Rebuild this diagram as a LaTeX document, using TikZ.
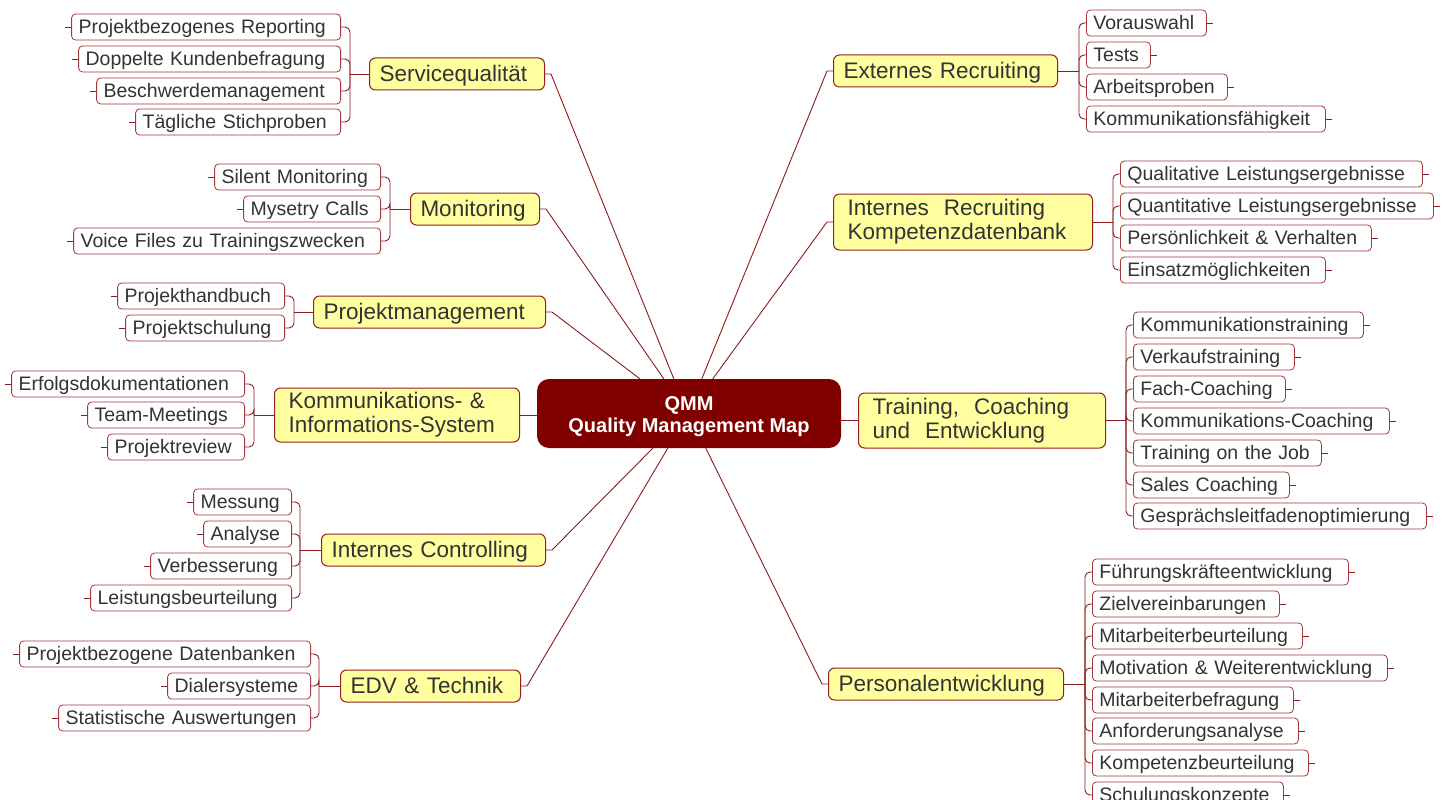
\documentclass[tikz,border=0pt]{standalone}
\usepackage{fontspec}
\setmainfont{Liberation Sans}
\usetikzlibrary{calc}
\definecolor{connc}{RGB}{140,26,26}
\definecolor{leafc}{RGB}{165,55,60}
\definecolor{branchc}{RGB}{150,30,30}
\definecolor{branchfill}{RGB}{255,255,160}
\definecolor{centerfill}{RGB}{128,0,0}
\definecolor{txt}{RGB}{51,51,51}
\begin{document}
\begin{tikzpicture}[x=1pt,y=-1pt,
  conn/.style={draw=connc, line width=0.9pt},
  spinec/.style={draw=connc, line width=0.9pt, rounded corners=5pt},
  leaf/.style={draw=leafc, line width=0.8pt, fill=white, rounded corners=4pt,
    font=\fontsize{19.5}{22}\selectfont, text=txt, inner xsep=7pt, inner ysep=0pt,
    minimum height=26pt, text height=16pt, text depth=2.5pt, align=left},
  lleaf/.style={leaf, anchor=east},
  rleaf/.style={leaf, anchor=west},
  branch/.style={draw=branchc, line width=1pt, fill=branchfill, rounded corners=6pt,
    font=\fontsize{22.5}{24}\selectfont, text=txt, inner xsep=10pt, inner ysep=0pt,
    minimum height=32pt, align=left, anchor=west},
  branchone/.style={branch, text height=18pt, text depth=3pt},
  branchtwo/.style={branch, inner xsep=14pt},
  central/.style={fill=centerfill, rounded corners=12pt, text=white,
    font=\fontsize{20}{21.5}\selectfont\bfseries, align=center,
    minimum width=304pt, minimum height=69pt, inner sep=0pt}
]
\useasboundingbox (0,0) rectangle (1444,800);
\clip (0,0) rectangle (1444,800);

% central node
\node[central] (qmm) at (689,413.5) {\rule{0pt}{20pt}QMM\\Quality Management Map};

% branches
\node[branchone, text width=155pt] (b1) at (369,74) {Servicequalität};
\node[branchone, text width=109pt] (b2) at (410,209) {Monitoring};
\node[branchone, text width=212pt] (b3) at (313,312) {Projektmanagement};
\node[branchtwo, text width=217pt, minimum height=54pt] (b4) at (274,415) {Kommunikations- \&\\Informations-System};
\node[branchone, text width=204pt] (b5) at (321,550) {Internes Controlling};
\node[branchone, text width=160pt] (b6) at (340,686) {EDV \& Technik};
\node[branchone, text width=204pt] (b7) at (833,71) {Externes Recruiting};
\node[branchtwo, text width=231pt, minimum height=56pt] (b8) at (833,222) {Internes\ \ Recruiting\\Kompetenzdatenbank};
\node[branchtwo, text width=219pt, minimum height=55pt] (b9) at (858,420.5) {Training,\ \ Coaching\\und\ \ Entwicklung};
\node[branchone, text width=215pt] (b10) at (828,684) {Personalentwicklung};

% connectors centre -> branches
\draw[conn] (b1.east) -- ++(6,0) -- ($(qmm.north west)+(137,0)$);
\draw[conn] (b2.east) -- ++(6,0) -- ($(qmm.north west)+(127,0)$);
\draw[conn] (b3.east) -- ++(6,0) -- ($(qmm.north west)+(103,0)$);
\draw[conn] (b4.east) -- (b4.east -| qmm.west);
\draw[conn] (b5.east) -- ++(6,0) -- ($(qmm.south west)+(116,0)$);
\draw[conn] (b6.east) -- ++(6,0) -- ($(qmm.south west)+(131,0)$);
\draw[conn] (b7.west) -- ++(-6,0) -- ($(qmm.north west)+(165,0)$);
\draw[conn] (b8.west) -- ++(-6,0) -- ($(qmm.north west)+(176,0)$);
\draw[conn] (b9.west) -- (b9.west -| qmm.east);
\draw[conn] (b10.west) -- ++(-6,0) -- ($(qmm.south west)+(169,0)$);

% spine points
\coordinate (s1) at ($(b1.west)+(-19,0)$);
\coordinate (s2) at ($(b2.west)+(-20,0)$);
\coordinate (s3) at ($(b3.west)+(-19,0)$);
\coordinate (s4) at ($(b4.west)+(-20,0)$);
\coordinate (s5) at ($(b5.west)+(-21,0)$);
\coordinate (s6) at ($(b6.west)+(-21,0)$);
\coordinate (s7) at ($(b7.east)+(21,0)$);
\coordinate (s8) at ($(b8.east)+(20,0)$);
\coordinate (s9) at ($(b9.east)+(20,0)$);
\coordinate (s10) at ($(b10.east)+(21,0)$);
\foreach \i in {1,...,6} {\draw[conn] (b\i.west) -- (s\i);}
\foreach \i in {7,...,10} {\draw[conn] (b\i.east) -- (s\i);}

% left leaves
\foreach \n/\x/\w/\y/\t in {
  l11/341/255/27/{Projektbezogenes Reporting},
  l12/341/248/59/{Doppelte Kundenbefragung},
  l13/341/230/91/{Beschwerdemanagement},
  l14/341/191/122/{Tägliche Stichproben},
  l21/381/152/177/{Silent Monitoring},
  l22/381/123/209/{Mysetry Calls},
  l23/381/293/241/{Voice Files zu Trainingszwecken},
  l31/285/153/296/{Projekthandbuch},
  l32/285/145/328/{Projektschulung},
  l41/245/219/384/{Erfolgsdokumentationen},
  l42/245/143/415/{Team-Meetings},
  l43/245/123/447/{Projektreview},
  l51/292/84/502/{Messung},
  l52/292/74/534/{Analyse},
  l53/292/127/566/{Verbesserung},
  l54/292/187/598/{Leistungsbeurteilung},
  l61/311/277/654/{Projektbezogene Datenbanken},
  l62/311/129/686/{Dialersysteme},
  l63/311/238/718/{Statistische Auswertungen}} {
  \node[lleaf, text width=\w pt] (\n) at (\x,\y) {\t};
  \draw[conn] (\n.west) -- ++(-6,0);
}

% right leaves
\foreach \n/\x/\w/\y/\t in {
  r71/1086/106/23/{Vorauswahl},
  r72/1086/50/55/{Tests},
  r73/1086/127/87/{Arbeitsproben},
  r74/1086/225/119/{Kommunikationsfähigkeit},
  r81/1120/288/174/{Qualitative Leistungsergebnisse},
  r82/1120/299/206/{Quantitative Leistungsergebnisse},
  r83/1120/237/238/{Persönlichkeit \& Verhalten},
  r84/1120/191/270/{Einsatzmöglichkeiten},
  r91/1133/216/325/{Kommunikationstraining},
  r92/1133/147/357/{Verkaufstraining},
  r93/1133/138/389/{Fach-Coaching},
  r94/1133/242/421/{Kommunikations-Coaching},
  r95/1133/174/453/{Training on the Job},
  r96/1133/142/485/{Sales Coaching},
  r97/1133/279/516/{Gesprächsleitfadenoptimierung},
  r101/1092/242/572/{Führungskräfteentwicklung},
  r102/1092/173/604/{Zielvereinbarungen},
  r103/1092/196/636/{Mitarbeiterbeurteilung},
  r104/1092/281/668/{Motivation \& Weiterentwicklung},
  r105/1092/187/700/{Mitarbeiterbefragung},
  r106/1092/192/731/{Anforderungsanalyse},
  r107/1092/202/763/{Kompetenzbeurteilung},
  r108/1092/177/795/{Schulungskonzepte}} {
  \node[rleaf, text width=\w pt] (\n) at (\x,\y) {\t};
  \draw[conn] (\n.east) -- ++(6,0);
}

% spine connectors
\foreach \l in {l11,l12,l13,l14} {\draw[spinec] (s1) |- (\l.east);}
\foreach \l in {l21,l22,l23} {\draw[spinec] (s2) |- (\l.east);}
\foreach \l in {l31,l32} {\draw[spinec] (s3) |- (\l.east);}
\foreach \l in {l41,l42,l43} {\draw[spinec] (s4) |- (\l.east);}
\foreach \l in {l51,l52,l53,l54} {\draw[spinec] (s5) |- (\l.east);}
\foreach \l in {l61,l62,l63} {\draw[spinec] (s6) |- (\l.east);}
\foreach \l in {r71,r72,r73,r74} {\draw[spinec] (s7) |- (\l.west);}
\foreach \l in {r81,r82,r83,r84} {\draw[spinec] (s8) |- (\l.west);}
\foreach \l in {r91,r92,r93,r94,r95,r96,r97} {\draw[spinec] (s9) |- (\l.west);}
\foreach \l in {r101,r102,r103,r104,r105,r106,r107,r108} {\draw[spinec] (s10) |- (\l.west);}
\end{tikzpicture}
\end{document}
